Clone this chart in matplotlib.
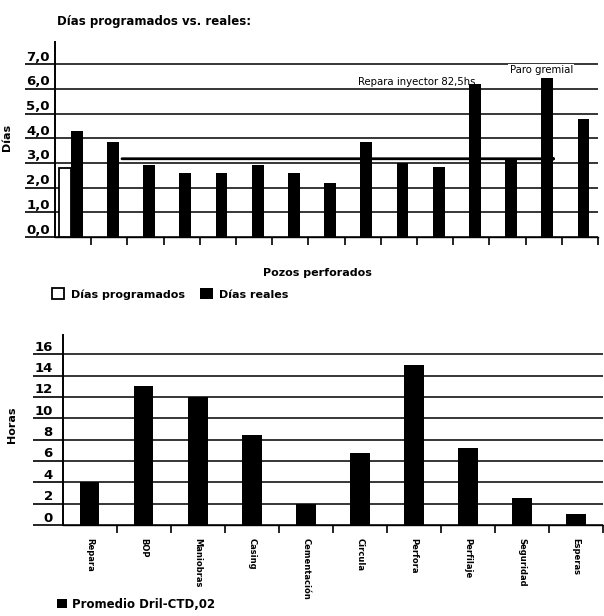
import numpy as np
import matplotlib
matplotlib.use("Agg")
import matplotlib.pyplot as plt
from matplotlib.transforms import ScaledTranslation

plt.rcParams["font.family"] = ["DejaVu Sans"]

# Días por pozo (solo el primero tiene programado)
dias_programados = [2.8]
dias_reales = [4.3, 3.85, 2.9, 2.6, 2.6, 2.9, 2.6, 2.2, 3.85, 3.0,
               2.85, 6.2, 3.2, 6.45, 4.8]
dias_ticks = [0, 1, 2, 3, 4, 5, 6, 7]
dias_ticklabels = ["0,0", "1,0", "2,0", "3,0", "4,0", "5,0", "6,0", "7,0"]

# flecha de referencia sobre los pozos
flecha_nivel = 3.17
flecha_desde = 1.35
flecha_hasta = 13.35

notas = [("Repara inyector 82,5hs.", 9.55, 6.28, False),
         ("Paro gremial", 12.93, 6.76, True)]

# Horas promedio por operación
operaciones = ["Repara", "BOP", "Maniobras", "Casing", "Cementación",
               "Circula", "Perfora", "Perfilaje", "Seguridad", "Esperas"]
horas = [4.0, 13.0, 12.0, 8.4, 2.0, 6.7, 15.0, 7.2, 2.5, 1.0]
horas_ticks = [0, 2, 4, 6, 8, 10, 12, 14, 16]

W, H = 604, 616
fig = plt.figure(figsize=(W / 100, H / 100), dpi=100)


def px_axes(left, top, right, bottom):
    return fig.add_axes([left / W, 1 - bottom / H, (right - left) / W, (bottom - top) / H])


def style_axis(ax, ticks, labels, label_right_gap):
    for s in ("top", "right"):
        ax.spines[s].set_visible(False)
    ax.spines["left"].set_linewidth(1.4)
    ax.spines["bottom"].set_linewidth(1.0)
    ax.set_axisbelow(True)
    ax.yaxis.grid(True, color="black", linewidth=1.1)
    ax.set_yticks(ticks, labels)
    tick_len_pt = 21.6
    ax.tick_params(axis="y", direction="out", length=tick_len_pt, width=1.2,
                   pad=-(tick_len_pt - label_right_gap * 0.72),
                   labelsize=9.5)
    for lab in ax.get_yticklabels():
        lab.set_fontweight("bold")
        lab.set_verticalalignment("baseline")
        lab.set_transform(lab.get_transform()
                          + ScaledTranslation(0, 2.5 / 72, fig.dpi_scale_trans))
    ax.tick_params(axis="x", direction="out", length=6, width=1.2)


# --- Días programados vs. reales ---
ax1 = px_axes(55, 42, 598, 237)
n = len(dias_reales)
x = np.arange(n)
ax1.bar(x + 0.1, dias_reales, width=0.33, color="black", label="Días reales", zorder=3)
ax1.bar(np.arange(len(dias_programados)) - 0.23, dias_programados, width=0.33,
        facecolor="white", edgecolor="black", linewidth=1.3,
        label="Días programados", zorder=3)
ax1.set_xlim(-0.5, n - 0.5)
ax1.set_ylim(0, 7.9)
style_axis(ax1, dias_ticks, dias_ticklabels, 5)
ax1.set_xticks(np.arange(0.5, n, 1))
ax1.set_xticklabels([])

ax1.annotate("", xy=(flecha_hasta, flecha_nivel), xytext=(flecha_desde, flecha_nivel),
             arrowprops=dict(arrowstyle="-|>,head_length=0.6,head_width=0.35",
                             color="black", lw=2.0,
                             mutation_scale=12, shrinkA=0, shrinkB=0), zorder=4)
for texto, nx, ny, fondo in notas:
    kw = dict(bbox=dict(facecolor="white", edgecolor="none", pad=1)) if fondo else {}
    ax1.text(nx, ny, texto, ha="center", va="center", fontsize=7.3, zorder=5, **kw)

ax1.set_ylabel("Días", fontsize=8, fontweight="bold")
ax1.yaxis.set_label_coords(-0.079, 0.513)
ax1.set_xlabel("Pozos perforados", fontsize=8, fontweight="bold")
ax1.xaxis.set_label_coords(0.484, -0.159)

h, l = ax1.get_legend_handles_labels()
fig.legend(h[::-1], l[::-1], loc="center left", bbox_to_anchor=(52 / W, 1 - 294 / H),
           ncol=2, frameon=False, prop=dict(weight="bold", size=8),
           borderpad=0, borderaxespad=0, handlelength=1.1, handleheight=1.1,
           handletextpad=0.6, columnspacing=1.4)

fig.text(57 / W, 1 - 21 / H, "Días programados vs. reales:", fontsize=8.5,
         fontweight="bold", va="center", ha="left")

# --- Horas por operación ---
ax2 = px_axes(62.7, 335, 603, 525)
xo = np.arange(len(operaciones))
ax2.bar(xo, horas, width=0.36, color="black", label="Promedio Dril-CTD,02", zorder=3)
ax2.set_xlim(-0.5, len(operaciones) - 0.5)
ax2.set_ylim(0, 17.8)
style_axis(ax2, horas_ticks, [str(t) for t in horas_ticks], 10)
ax2.set_xticks(np.arange(0.5, len(operaciones), 1))
ax2.set_xticklabels([])
ax2.set_xticks(xo, operaciones, minor=True)
ax2.tick_params(axis="x", which="minor", length=0, pad=9, labelsize=6,
                labelrotation=-90)
for lab in ax2.get_xticklabels(minor=True):
    lab.set_fontweight("bold")
    lab.set_verticalalignment("top")
ax2.set_ylabel("Horas", fontsize=8, fontweight="bold")
ax2.yaxis.set_label_coords(-0.085, 0.526)

h2, l2 = ax2.get_legend_handles_labels()
fig.legend(h2, l2, loc="center left", bbox_to_anchor=(57 / W, 1 - 604 / H),
           frameon=False, prop=dict(weight="bold", size=8.5),
           borderpad=0, borderaxespad=0, handlelength=0.85, handleheight=0.9,
           handletextpad=0.45)

fig.savefig("out.png", dpi=100, facecolor="white")
